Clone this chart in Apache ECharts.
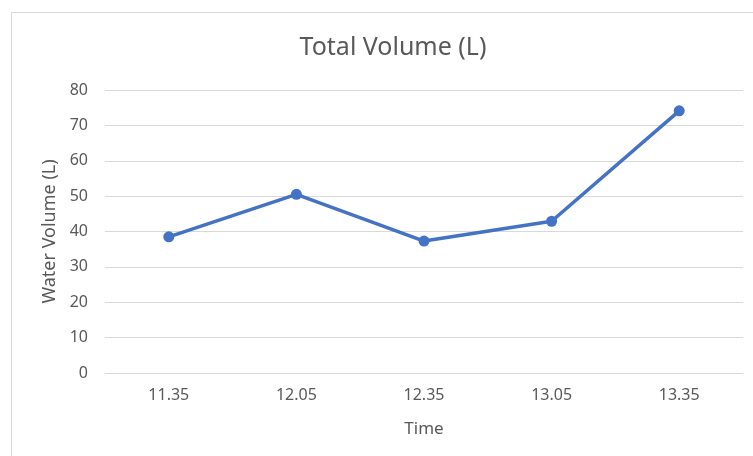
<!DOCTYPE html>
<html>
<head>
<meta charset="utf-8">
<script src="https://cdn.jsdelivr.net/npm/echarts@6/dist/echarts.min.js"></script>
<style>
html,body{margin:0;padding:0;background:#fff;}
#chart{width:753px;height:456px;}
</style>
</head>
<body>
<div id="chart"></div>
<script>
// Sampling times and total water volume
const times = ['11.35', '12.05', '12.35', '13.05', '13.35'];
const volumes = [38.5, 50.5, 37.3, 42.9, 74.1];
const yTicks = [0, 10, 20, 30, 40, 50, 60, 70, 80];

const textColor = '#595959';
const font = 'Noto Sans';

const chart = echarts.init(document.getElementById('chart'));
chart.setOption({
  backgroundColor: '#fff',
  animation: false,
  graphic: [{
    type: 'rect',
    shape: { x: 11.5, y: 12.5, width: 760, height: 460 },
    style: { fill: 'none', stroke: '#d9d9d9', lineWidth: 1 },
    silent: true
  }],
  title: {
    text: 'Total Volume (L)',
    left: 388,
    textAlign: 'center',
    top: 30,
    textStyle: { color: textColor, fontFamily: font, fontSize: 25, fontWeight: 'normal' }
  },
  grid: { left: 105, right: 10, top: 90, bottom: 83, containLabel: false },
  xAxis: {
    type: 'category',
    data: times,
    boundaryGap: true,
    name: 'Time',
    nameLocation: 'middle',
    nameGap: 48,
    nameTextStyle: { color: textColor, fontFamily: font, fontSize: 17 },
    axisLine: { show: true, lineStyle: { color: '#d9d9d9' } },
    axisTick: { show: false },
    axisLabel: { color: textColor, fontFamily: font, fontSize: 16, margin: 14 }
  },
  yAxis: {
    type: 'value',
    min: yTicks[0],
    max: yTicks[yTicks.length - 1],
    interval: yTicks[1] - yTicks[0],
    name: 'Water Volume (L)',
    nameLocation: 'middle',
    nameGap: 45,
    nameTextStyle: { color: textColor, fontFamily: font, fontSize: 18 },
    axisLine: { show: false },
    axisTick: { show: false },
    axisLabel: { color: textColor, fontFamily: font, fontSize: 16, margin: 17 },
    splitLine: { lineStyle: { color: '#d9d9d9', width: 1 } }
  },
  series: [{
    type: 'line',
    data: volumes,
    symbol: 'circle',
    symbolSize: 11,
    lineStyle: { color: '#4472C4', width: 3.5 },
    itemStyle: { color: '#4472C4' }
  }]
});
</script>
</body>
</html>
